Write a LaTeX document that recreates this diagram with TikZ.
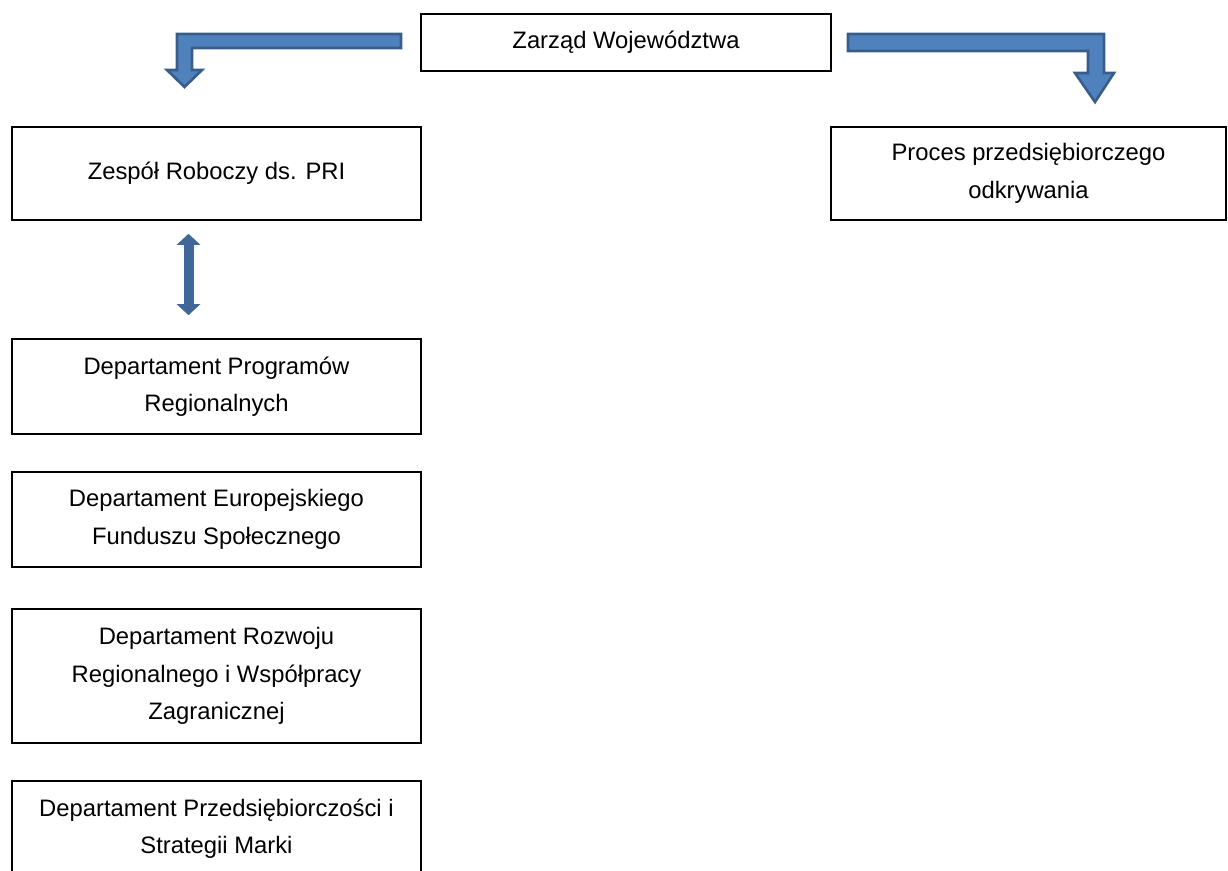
\documentclass[tikz,border=0pt]{standalone}
\usepackage{fontspec}
\setmainfont{Liberation Sans}
\usetikzlibrary{arrows.meta}
\definecolor{arrfill}{HTML}{4F81BD}
\definecolor{arrline}{HTML}{385D8A}
\definecolor{dblfill}{HTML}{3F6898}
\begin{document}
\begin{tikzpicture}[x=1pt,y=-1pt,
  box/.style={draw=black, line width=1.6pt, rectangle, align=center, inner sep=0pt,
    font=\fontsize{23.8}{37.5}\selectfont},
  bentarrow/.style={fill=arrfill, draw=arrline, line width=2.6pt, line join=miter},
  dblarrow/.style={draw=dblfill, line width=10pt,
    {Triangle[width=23pt,length=11pt]}-{Triangle[width=23pt,length=11pt]}}]
\useasboundingbox (0,0) rectangle (1228,870);
\begin{scope}
\clip (0,0) rectangle (1228,870);
\node[box, minimum width=410pt, minimum height=57pt] (zw) at (626,42.5) {Zarząd Województwa};
\node[box, minimum width=409pt, minimum height=93pt] (zr) at (216.5,173.5) {Zespół Roboczy ds. PRI};
\node[box, minimum width=395pt, minimum height=93pt] (pp) at (1028.5,173.5) {Proces przedsiębiorczego\\odkrywania};
\node[box, minimum width=409pt, minimum height=95pt] (dpr) at (216.5,386.5) {Departament Programów\\Regionalnych};
\node[box, minimum width=409pt, minimum height=95pt] (defs) at (216.5,519.5) {Departament Europejskiego\\Funduszu Społecznego};
\node[box, minimum width=409pt, minimum height=134pt] (drr) at (216.5,676) {Departament Rozwoju\\Regionalnego i Współpracy\\Zagranicznej};
\node[box, minimum width=409pt, minimum height=95pt] (dps) at (216.5,828.5) {Departament Przedsiębiorczości i\\Strategii Marki};
\end{scope}
% bent arrow to the left
\draw[bentarrow] (401,34) -- (177,34) -- (177,70) -- (167,70) -- (184.5,87) -- (202,70)
  -- (192,70) -- (192,48) -- (401,48) -- cycle;
% bent arrow to the right
\draw[bentarrow] (848,34) -- (1104,34) -- (1104,73) -- (1114,73) -- (1095,102) -- (1075,73)
  -- (1088,73) -- (1088,51) -- (848,51) -- cycle;
% double arrow
\draw[dblarrow] ([xshift=-28pt,yshift=-13pt]zr.south) -- ([xshift=-28pt,yshift=23pt]dpr.north);
\end{tikzpicture}
\end{document}
